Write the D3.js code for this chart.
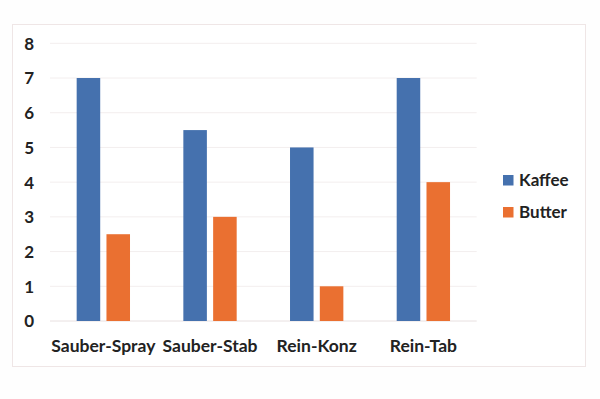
<!DOCTYPE html>
<html><head><meta charset="utf-8">
<script src="https://cdn.jsdelivr.net/npm/d3@7"></script>
<style>
html,body{margin:0;padding:0;background:#fefefe;}
svg{display:block;}
text{font-family:Lato,"Open Sans",sans-serif;font-weight:bold;fill:#222222;}
</style></head>
<body>
<svg id="c" width="600" height="399"></svg>
<script>
const categories = ["Sauber-Spray","Sauber-Stab","Rein-Konz","Rein-Tab"];
const seriesNames = ["Kaffee","Butter"];
const kaffee = [7,5.5,5,7];
const butter = [2.5,3,1,4];
const yTicks = [0,1,2,3,4,5,6,7,8];
const colors = ["#4571AE","#EA7031"];

const svg = d3.select("#c");
svg.append("rect").attr("x",12.5).attr("y",24.5).attr("width",573).attr("height",342)
  .attr("fill","#ffffff").attr("stroke","#efe6e6").attr("stroke-width",1);

const x0 = d3.scaleBand().domain(categories).range([50,476.7]).paddingInner(0.5).paddingOuter(0.25);
const x1 = d3.scaleBand().domain(seriesNames).range([0,x0.bandwidth()]).paddingInner(0.21).paddingOuter(0);
const y = d3.scaleLinear().domain([0,8]).range([321,43.3]);

const data = categories.map((c,i)=>({cat:c, vals:[kaffee[i],butter[i]]}));

svg.append("g").selectAll("line").data(yTicks).join("line")
  .attr("x1",50).attr("x2",476.7).attr("y1",d=>y(d)).attr("y2",d=>y(d))
  .attr("stroke",d=>d===0?"#e8e0e0":"#f3eeee").attr("stroke-width",1);

const yAxis = d3.axisLeft(y).tickValues(yTicks).tickSize(0).tickPadding(0).tickFormat(d3.format("d"));
const ya = svg.append("g").attr("transform","translate(34,0)").call(yAxis);
ya.select(".domain").remove();
ya.selectAll("text").style("font-size","17px").attr("fill","#222222").attr("dy","0.35em");

const g = svg.append("g").selectAll("g").data(data).join("g")
  .attr("transform",d=>`translate(${x0(d.cat)},0)`);
g.selectAll("rect").data(d=>d.vals.map((v,j)=>({s:seriesNames[j],v,j}))).join("rect")
  .attr("x",d=>x1(d.s)).attr("width",x1.bandwidth())
  .attr("y",d=>y(d.v)).attr("height",d=>y(0)-y(d.v)).attr("fill",d=>colors[d.j]);

const xAxis = d3.axisBottom(x0).tickSize(0).tickPadding(0);
const xa = svg.append("g").attr("transform","translate(0,339.5)").call(xAxis);
xa.select(".domain").remove();
xa.selectAll("text").style("font-size","17.5px").attr("fill","#222222").attr("dy","0.71em");

const leg = svg.append("g").selectAll("g").data(seriesNames).join("g")
  .attr("transform",(d,i)=>`translate(503,${175+i*32})`);
leg.append("rect").attr("width",10.5).attr("height",10.5).attr("fill",(d,i)=>colors[i]);
leg.append("text").attr("x",16).attr("y",10.5).style("font-size","17px").text(d=>d);
</script>
</body></html>
